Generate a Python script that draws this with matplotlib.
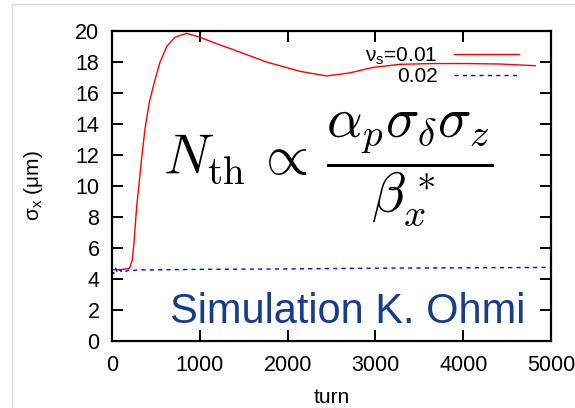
import matplotlib
matplotlib.use('Agg')
import matplotlib.pyplot as plt
from matplotlib.lines import Line2D

plt.rcParams['font.family'] = ['Liberation Sans', 'DejaVu Sans']

# values
red_turn = [0, 100, 200, 230, 250, 280, 338, 376, 425, 482, 547, 623, 717, 850,
            1000, 1230, 1380, 1760, 2140, 2445, 2710, 2970, 3280, 3660, 4040, 4420, 4820]
red_sigma = [4.6, 4.6, 4.7, 5.2, 6.3, 8.6, 11.8, 13.7, 15.4, 16.7, 18.0, 19.0, 19.6, 19.85,
             19.6, 19.1, 18.8, 18.0, 17.4, 17.1, 17.3, 17.65, 17.85, 17.9, 17.9, 17.87, 17.76]

blue_turn = [0, 20, 40, 60, 80, 100, 130, 160, 200, 250, 300, 400, 600, 1000,
             2000, 3000, 4000, 5000]
blue_sigma = [4.5, 4.35, 4.7, 4.45, 4.65, 4.5, 4.62, 4.5, 4.6, 4.55, 4.6, 4.58, 4.6, 4.62,
              4.65, 4.7, 4.72, 4.75]

labels = ['ν$_\\mathregular{s}$=0.01', '0.02']
xticks = [0, 1000, 2000, 3000, 4000, 5000]
yticks = list(range(0, 21, 2))

fig = plt.figure(figsize=(5.75, 4.08), dpi=100)
ax = fig.add_axes([112/575, 1 - 341/408, 439/575, 310/408])

ax.plot(red_turn, red_sigma, color='#ff0000', lw=1.0, label=labels[0])
ax.plot(blue_turn, blue_sigma, color='#0000ff', lw=1.0, ls=(0, (3, 3)), label=labels[1])

ax.set_xlim(0, 5000)
ax.set_ylim(0, 20)
ax.set_xticks(xticks)
ax.set_yticks(yticks)
ax.tick_params(direction='in', length=8, width=1.4, top=True, right=True,
               labelsize=15.5)
ax.tick_params(axis='x', pad=10)
ax.tick_params(axis='y', pad=9)
for s in ax.spines.values():
    s.set_linewidth(1.6)

ax.set_xlabel('turn', fontsize=15, labelpad=9)
ax.set_ylabel('σ$_\\mathregular{x}$ (μm)', fontsize=15, labelpad=22)

leg = ax.legend(loc='upper right', frameon=False, markerfirst=False, fontsize=15,
                handlelength=3.1, handletextpad=0.8, labelspacing=0.0,
                borderaxespad=0.3, bbox_to_anchor=(0.96, 1.0))

ax.text(2460, 11.1, r'$N_{\rm th}\,\propto\,\dfrac{\alpha_p\sigma_\delta\sigma_z}{\beta_x^*}$',
        fontsize=40, ha='center', va='center', math_fontfamily='cm')
ax.text(2688, 1.16, 'Simulation K. Ohmi', fontsize=30, color='#173c8c',
        ha='center', va='baseline')

# slide frame lines
fig.add_artist(Line2D([12/575, 12/575], [0, 1 - 4/408], color='#dddddd', lw=1))
fig.add_artist(Line2D([12/575, 1], [1 - 4/408, 1 - 4/408], color='#dddddd', lw=1))

fig.savefig('out.png', dpi=100)
